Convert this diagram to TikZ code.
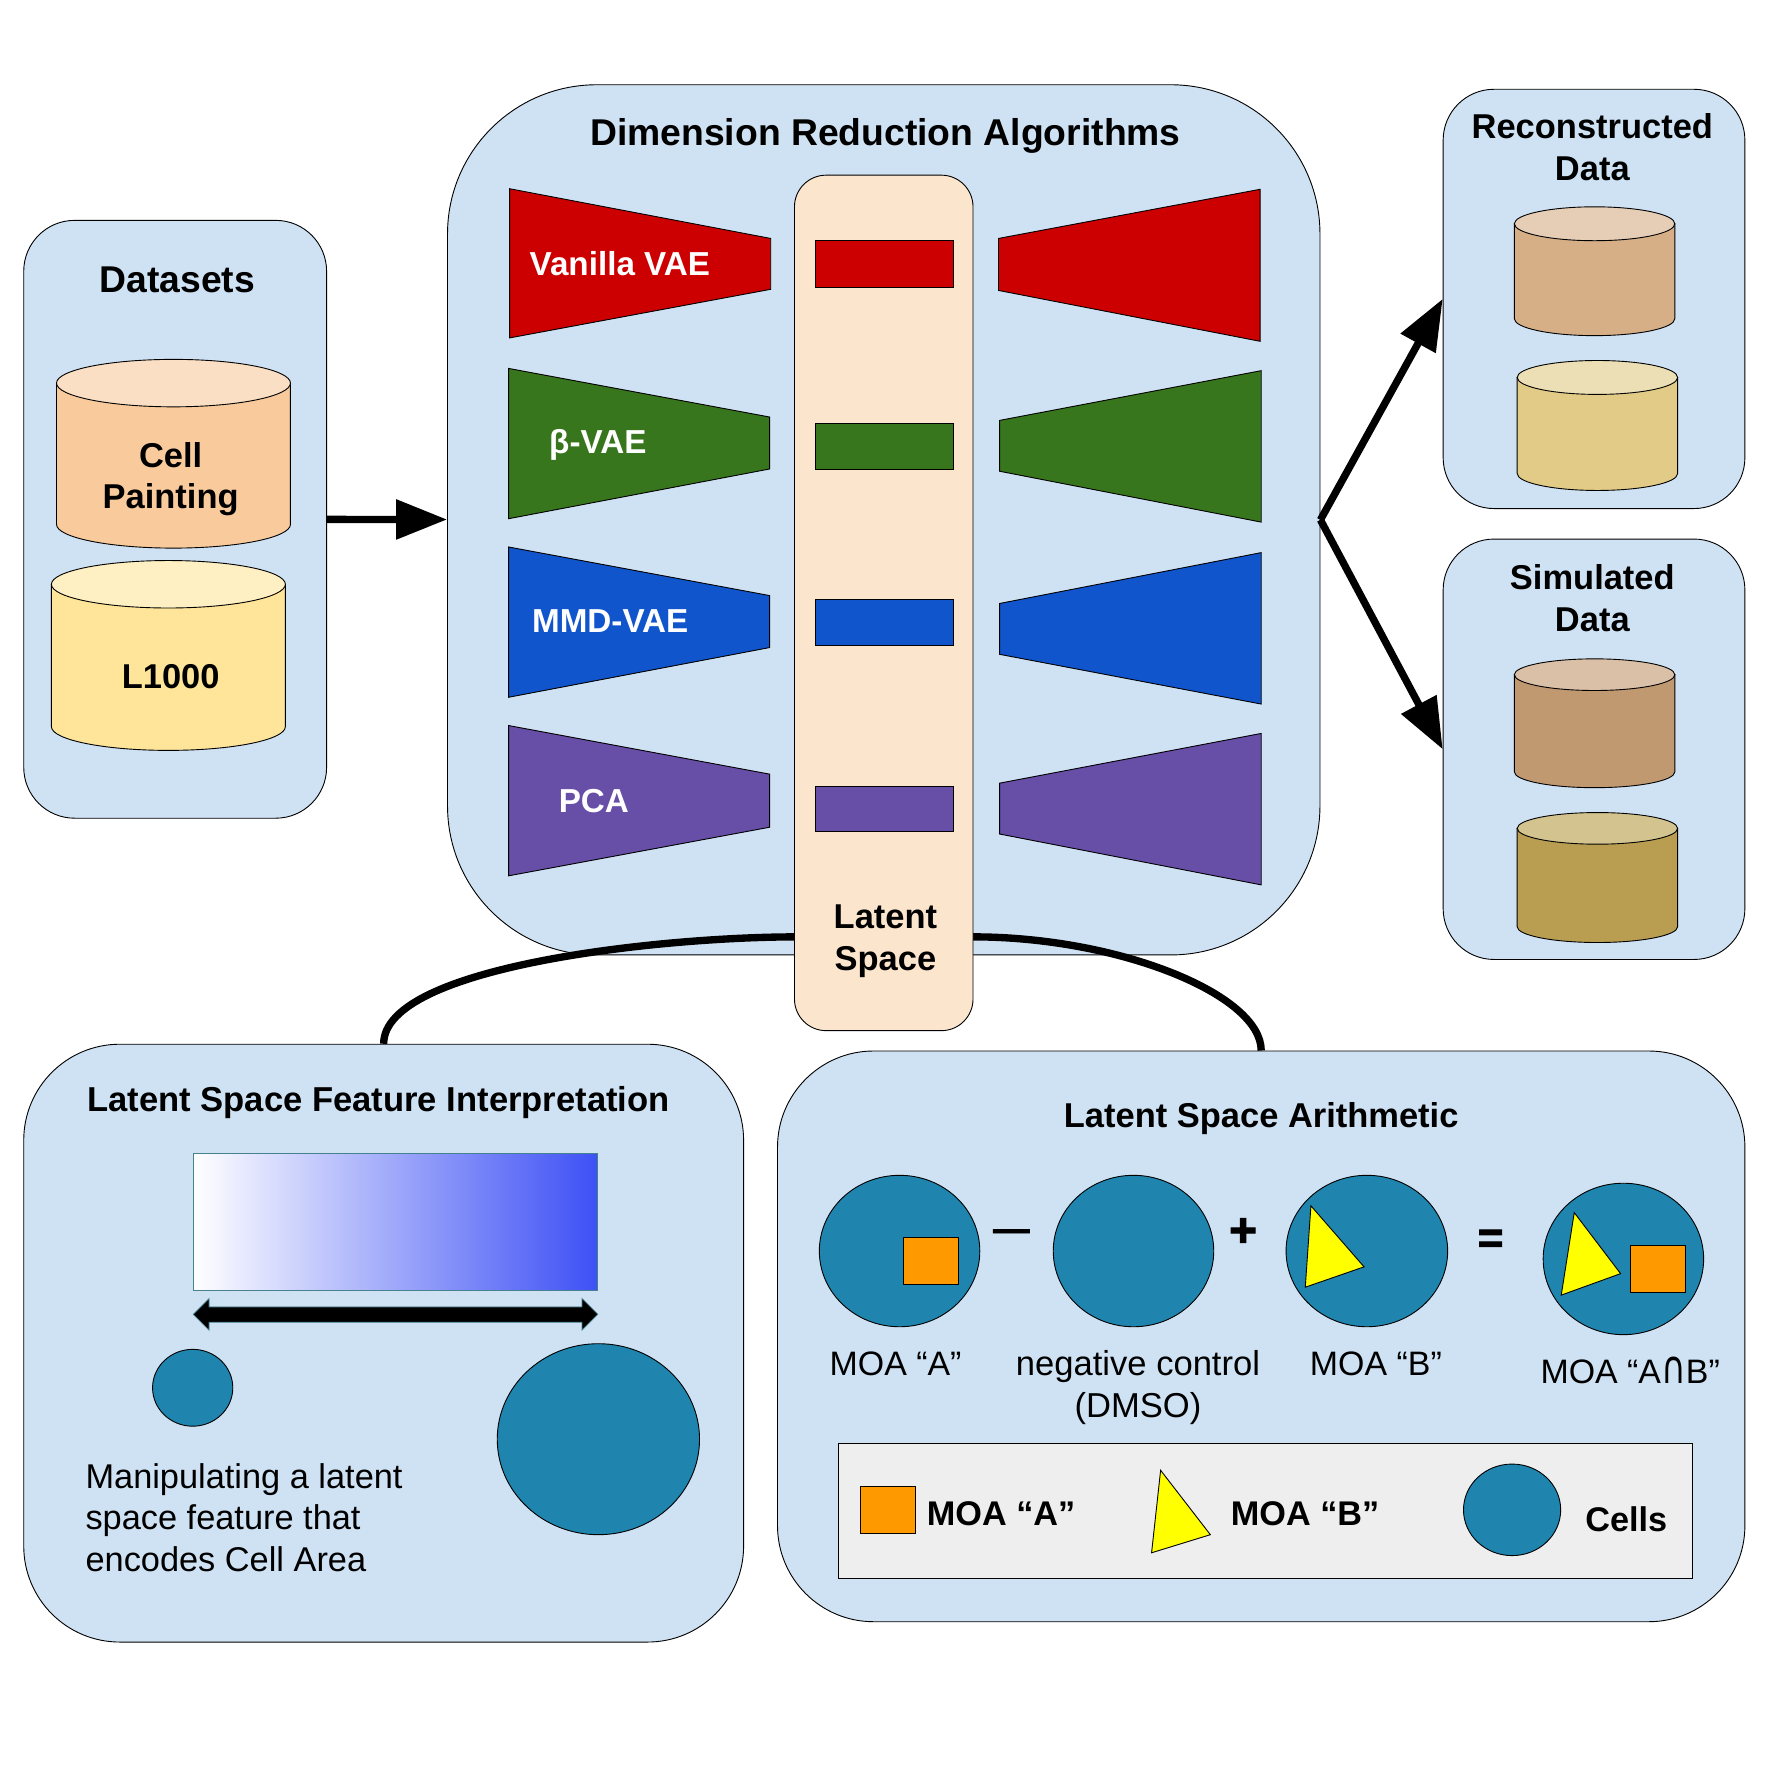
\documentclass[tikz,border=0pt]{standalone}
\usepackage{graphicx}
\usepackage{fontspec}
\setmainfont{Liberation Sans}
\newfontfamily\symfont{DejaVu Sans}
\newfontfamily\heavyfont[FakeBold=2.2]{Liberation Sans Bold}
\usetikzlibrary{arrows.meta,shapes.geometric}
\definecolor{panelblue}{HTML}{CFE2F3}
\definecolor{peach}{HTML}{FCE5CD}
\definecolor{cellblue}{HTML}{2085AE}
\definecolor{moaorange}{HTML}{FF9900}
\definecolor{moayellow}{HTML}{FFFF00}
\definecolor{vred}{HTML}{CC0000}
\definecolor{vgreen}{HTML}{38761D}
\definecolor{vblue}{HTML}{1155CC}
\definecolor{vpurple}{HTML}{674EA7}
\definecolor{legendgrey}{HTML}{EEEEEE}
\definecolor{gradblue}{HTML}{3D50F5}
\definecolor{edgeteal}{HTML}{45818E}
\definecolor{cpside}{HTML}{F9CB9C}
\definecolor{cptop}{HTML}{FBDFC4}
\definecolor{lkside}{HTML}{FFE599}
\definecolor{lktop}{HTML}{FFF0C3}
\definecolor{reAside}{HTML}{D6AF87}
\definecolor{reAtop}{HTML}{E5CDB6}
\definecolor{reBside}{HTML}{E2CB87}
\definecolor{reBtop}{HTML}{ECDFB6}
\definecolor{siAside}{HTML}{C09971}
\definecolor{siAtop}{HTML}{DAC0A6}
\definecolor{siBside}{HTML}{B99E52}
\definecolor{siBtop}{HTML}{D3C48F}
\newcommand{\fs}[2]{\fontsize{#1}{#2}\selectfont}
\newcommand{\cylshape}[7]{%
  % #1 x0, #2 x1, #3 ytop, #4 ybot, #5 ry, #6 side, #7 top
  \pgfmathsetmacro{\xc}{(#1+#2)/2}\pgfmathsetmacro{\rxx}{(#2-#1)/2}%
  \pgfmathsetmacro{\kx}{0.5523*\rxx}\pgfmathsetmacro{\ky}{0.5523*#5}%
  \pgfmathsetmacro{\yt}{#3+#5}\pgfmathsetmacro{\yb}{#4-#5}%
  \draw[thinline,fill=#6] (#1,\yt) -- (#1,\yb)
    .. controls (#1,\yb+\ky) and (\xc-\kx,#4) .. (\xc,#4)
    .. controls (\xc+\kx,#4) and (#2,\yb+\ky) .. (#2,\yb) -- (#2,\yt) -- cycle;
  \draw[thinline,fill=#7] (\xc,\yt) ellipse [x radius=\rxx pt, y radius=#5 pt];%
}
\tikzset{
  thinline/.style={draw=black,line width=0.8pt},
  panel/.style={thinline,fill=panelblue,rectangle,inner sep=0pt},
  cellshape/.style={thinline,fill=cellblue,ellipse,inner sep=0pt},
  moasq/.style={thinline,fill=moaorange},
  moatri/.style={thinline,fill=moayellow},
  boldtxt/.style={font=\fs{#1}{37}\bfseries,align=center,inner sep=0pt,text=black},
  plaintxt/.style={font=\fs{#1}{37},align=center,inner sep=0pt,text=black},
  whitetxt/.style={font=\fs{#1}{37}\bfseries,inner sep=0pt,text=white},
  optxt/.style={font=\fs{#1}{37}\heavyfont,inner sep=0pt,text=black},
  flow/.style={line width=6.5pt,-{Triangle[length=45pt,width=34pt]}},
  link/.style={line width=6.5pt},
}
\begin{document}
\begin{tikzpicture}[x=1pt,y=-1pt]
\useasboundingbox (0,0) rectangle (1568,1568);
\fill[white] (0,0) rectangle (1568,1568);

% panels
\node[panel,rounded corners=45pt,minimum width=268pt,minimum height=529pt] (ds) at (155,459.5) {};
\node[panel,rounded corners=132pt,minimum width=772pt,minimum height=770pt] (main) at (782,460) {};
\node[panel,rounded corners=45pt,minimum width=267pt,minimum height=371pt] (recon) at (1410.5,264.5) {};
\node[panel,rounded corners=45pt,minimum width=267pt,minimum height=372pt] (sim) at (1410.5,663) {};
\node[panel,rounded corners=85pt,minimum width=637pt,minimum height=529pt] (lsfi) at (339.5,1188.5) {};
\node[panel,rounded corners=85pt,minimum width=856pt,minimum height=505pt] (lsa) at (1116,1182.5) {};

% connectors
\draw[flow] (ds) -- (main);
\draw[flow] (main.east) -- (recon.west);
\draw[flow] (main.east) -- (sim.west);
\draw[link] (lsfi.north) .. controls (339.5,855) and (585,829) .. (705,829)
  -- (861,829) .. controls (990,829) and (1116,880) .. (lsa.north);

% latent column
\node[thinline,fill=peach,rectangle,rounded corners=28pt,inner sep=0pt,minimum width=158pt,minimum height=757pt] (latent) at (782,533.5) {};

% datasets
\cylshape{50}{257}{318}{485}{21}{cpside}{cptop}
\cylshape{45.5}{252.5}{496}{664}{21}{lkside}{lktop}
\node[boldtxt=33] (t1) at (157,247.5) {Datasets};
\node[boldtxt=30.5] (t2) at (151,424) {Cell\\Painting};
\node[boldtxt=30.5] (t3) at (151,599) {L1000};

% main title
\node[boldtxt=33] (t4) at (783.5,120) {Dimension Reduction Algorithms};

% encoders
\draw[thinline,fill=vred] (451,167) -- (682,211) -- (682,256) -- (451,299) -- cycle;
\draw[thinline,fill=vgreen] (450,326) -- (681,369) -- (681,415) -- (450,459) -- cycle;
\draw[thinline,fill=vblue] (450,484) -- (681,527) -- (681,573) -- (450,617) -- cycle;
\draw[thinline,fill=vpurple] (450,642) -- (681,685) -- (681,732) -- (450,775) -- cycle;
% decoders
\draw[thinline,fill=vred] (883.5,211) -- (1115,167.5) -- (1115,302) -- (883.5,257) -- cycle;
\draw[thinline,fill=vgreen] (884.5,372) -- (1116,328) -- (1116,462) -- (884.5,417) -- cycle;
\draw[thinline,fill=vblue] (884.5,534) -- (1116,489) -- (1116,623) -- (884.5,579) -- cycle;
\draw[thinline,fill=vpurple] (884.5,693) -- (1116,649) -- (1116,783) -- (884.5,738) -- cycle;
% latent bars
\draw[thinline,fill=vred] (721.5,212.5) rectangle (844,254);
\draw[thinline,fill=vgreen] (721.5,374.5) rectangle (844,415);
\draw[thinline,fill=vblue] (721.5,530.5) rectangle (844,571);
\draw[thinline,fill=vpurple] (721.5,695.5) rectangle (844,736);
% method labels
\node[whitetxt=29.4] (m1) at (548.5,233) {Vanilla VAE};
\node[whitetxt=29.4] (m2) at (529,393.5) {β-VAE};
\node[whitetxt=29.4] (m3) at (540,550) {MMD-VAE};
\node[whitetxt=29.4] (m4) at (525.5,709) {PCA};
\node[boldtxt=30.5] (t5) at (783.5,833) {Latent\\Space};

% reconstructed / simulated
\node[boldtxt=30.5] (t6) at (1409,130.5) {Reconstructed\\Data};
\cylshape{1340}{1482}{183}{297}{15}{reAside}{reAtop}
\cylshape{1342.5}{1484.5}{319}{434}{15}{reBside}{reBtop}
\node[boldtxt=30.5] (t7) at (1409,529.5) {Simulated\\Data};
\cylshape{1340}{1482}{583}{697}{14}{siAside}{siAtop}
\cylshape{1342.5}{1484.5}{719}{834}{14}{siBside}{siBtop}

% feature interpretation
\node[boldtxt=30.6] (t8) at (335,976) {Latent Space Feature Interpretation};
\node[draw=edgeteal,line width=0.8pt,rectangle,inner sep=0pt,minimum width=358pt,minimum height=121pt,left color=white,right color=gradblue] (grad) at (350,1081.5) {};
\fill[draw=edgeteal,line width=0.6pt,fill=black] (171,1163) -- (185,1149) -- (185,1156.5) -- (515,1156.5) -- (515,1149) -- (529,1163) -- (515,1177) -- (515,1170) -- (185,1170) -- (185,1177) -- cycle;
\node[cellshape,minimum width=71pt,minimum height=68pt] (small) at (170.5,1228) {};
\node[cellshape,minimum width=179pt,minimum height=169pt] (big) at (529.5,1273.5) {};
\node[plaintxt=30.4,align=left,anchor=north west] (t9) at (75.5,1294.5) {Manipulating a latent\\space feature that\\encodes Cell Area};

% arithmetic
\node[boldtxt=30.5] (t10) at (1116,990) {Latent Space Arithmetic};
\node[cellshape,minimum width=142pt,minimum height=134pt] (c1) at (796,1107) {};
\node[cellshape,minimum width=142pt,minimum height=134pt] (c2) at (1003,1107) {};
\node[cellshape,minimum width=143pt,minimum height=134pt] (c3) at (1209.5,1107) {};
\node[cellshape,minimum width=142pt,minimum height=134pt] (c4) at (1436.5,1114) {};
\draw[moasq] (799.5,1095) rectangle (848,1137);
\draw[moatri] (1160,1067) -- (1207,1121) -- (1155,1139) -- cycle;
\draw[moatri] (1393,1073) -- (1434,1127) -- (1381.5,1146) -- cycle;
\draw[moasq] (1443,1102) rectangle (1491,1144);
\node[optxt=32] (op1) at (895,1093) {—};
\node[optxt=42] (op2) at (1100,1090.5) {+};
\node[optxt=39] (op3) at (1319,1098.5) {=};
\node[plaintxt=30] (l1) at (792.5,1207) {MOA “A”};
\node[plaintxt=30.6] (l2) at (1007,1227.5) {negative control\\(DMSO)};
\node[plaintxt=30] (l3) at (1217.5,1207) {MOA “B”};
\node[plaintxt=30] (l4) at (1442.5,1213) {MOA “A{\symfont\scalebox{1}[1.35]{∩}}B”};

% legend
\node[thinline,fill=legendgrey,rectangle,inner sep=0pt,minimum width=756pt,minimum height=120pt] (legend) at (1120,1337) {};
\draw[moasq] (761,1315) rectangle (810,1357);
\draw[moatri] (1027,1301) -- (1071,1358) -- (1019,1374) -- cycle;
\node[cellshape,minimum width=86pt,minimum height=81pt] (c5) at (1338,1336) {};
\node[boldtxt=30.3,anchor=west] (l5) at (820,1339) {MOA “A”};
\node[boldtxt=30.3,anchor=west] (l6) at (1089,1339) {MOA “B”};
\node[boldtxt=30.3] (l7) at (1439,1344.5) {Cells};
\end{tikzpicture}
\end{document}
